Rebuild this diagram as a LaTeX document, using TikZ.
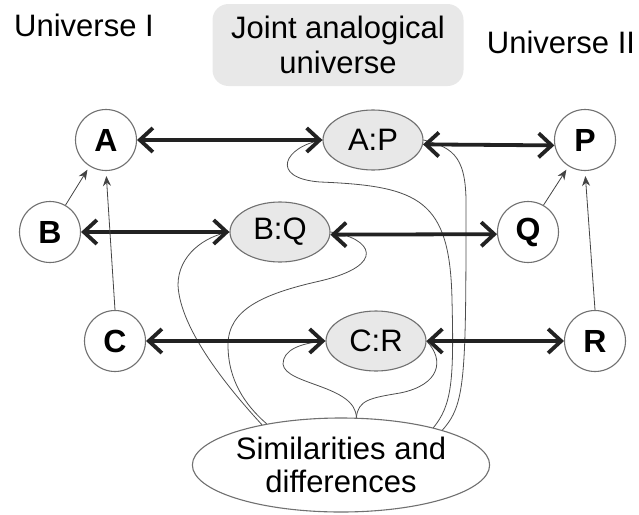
\documentclass[tikz,border=0pt]{standalone}
\usepackage{fontspec}
\setmainfont{Liberation Sans}
\usetikzlibrary{arrows.meta,shapes.geometric}
\definecolor{panel}{HTML}{E8E8E8}
\definecolor{rim}{HTML}{707070}
\definecolor{ink}{HTML}{222222}
\begin{document}
\begin{tikzpicture}[x=1pt,y=-1pt,
  every node/.style={inner sep=0pt, font=\fontsize{31}{35}\selectfont},
  item/.style={circle, draw=rim, line width=1.1pt, fill=white,
    minimum size=61pt, font=\fontsize{32}{35}\selectfont\bfseries},
  pair/.style={ellipse, draw=rim, line width=1.1pt, fill=panel,
    minimum width=100pt, minimum height=60pt},
  barb/.style={Straight Barb[length=13pt,width=24pt,line width=3.8pt]},
  link/.style={ink, line width=3.8pt, {Straight Barb[length=13pt,width=24pt,line width=3.8pt]}-{Straight Barb[length=13pt,width=24pt,line width=3.8pt]}},
  maps/.style={ink!85, line width=0.8pt, -{Stealth[length=10pt,width=8pt]}, shorten >=4pt},
  trace/.style={ink!80, line width=0.8pt}
]
\useasboundingbox (0,0) rectangle (639,514);

% headings
\node (u1) at (84,25) {Universe I};
\node (u2) at (561,42) {Universe II};
\node[fill=panel, rounded corners=16pt, minimum width=251pt, minimum height=82pt,
      align=center] (joint) at (338,45) {Joint analogical\\universe};

% elements of both universes
\node[item] (A) at (106,140) {A};
\node[item] (B) at (50,232) {B};
\node[item] (C) at (115,341) {C};
\node[item] (P) at (585,140) {P};
\node[item] (Q) at (528,232) {Q};
\node[item] (R) at (595,341) {R};

% analogical pairs
\node[pair] (AP) at (373,140) {A:P};
\node[pair] (BQ) at (280,232) {B:Q};
\node[pair] (CR) at (376,341) {C:R};

\node[ellipse, draw=rim, line width=1.1pt, fill=white, minimum width=294pt,
      minimum height=94pt, align=center] (SD) at (341,465)
      {Similarities and\\[-2pt]differences};

% thin traces from the pairs to the similarities node
\draw[trace] (AP.west) .. controls (285,146) and (268,178) .. (320,182)
  .. controls (420,186) and (450,200) .. (452,300)
  .. controls (454,380) and (452,405) .. (SD.22);
\draw[trace] (AP.east) .. controls (455,148) and (467,158) .. (466,210)
  .. controls (466,380) and (465,405) .. (SD.19);
\draw[trace] (BQ.west) .. controls (205,236) and (178,255) .. (178,285)
  .. controls (180,330) and (230,390) .. (SD.153);
\draw[trace] (BQ.east) .. controls (372,238) and (388,265) .. (320,281)
  .. controls (262,294) and (228,310) .. (228,345)
  .. controls (228,380) and (245,405) .. (SD.151);
\draw[trace] (CR.west) .. controls (300,343) and (283,350) .. (283,364)
  .. controls (285,385) and (356,385) .. (SD.72);
\draw[trace] (CR.east) .. controls (445,360) and (440,385) .. (400,393)
  .. controls (370,398) and (358,400) .. (SD.72);

% correspondences
\draw[link] (A) -- (AP);
\draw[link] (AP.-5) -- (P.-170);
\draw[link] (B) -- (BQ);
\draw[link] (BQ.-3) -- (Q.-176);
\draw[link] (C) -- (CR);
\draw[link] (CR) -- (R);

% relations inside each universe
\draw[maps] (B.60) -- (A.238);
\draw[maps, shorten >=5pt] (C.north) -- (A.south);
\draw[maps] (Q.60) -- (P.238);
\draw[maps, shorten >=5pt] (R.north) -- (P.south);
\end{tikzpicture}
\end{document}
